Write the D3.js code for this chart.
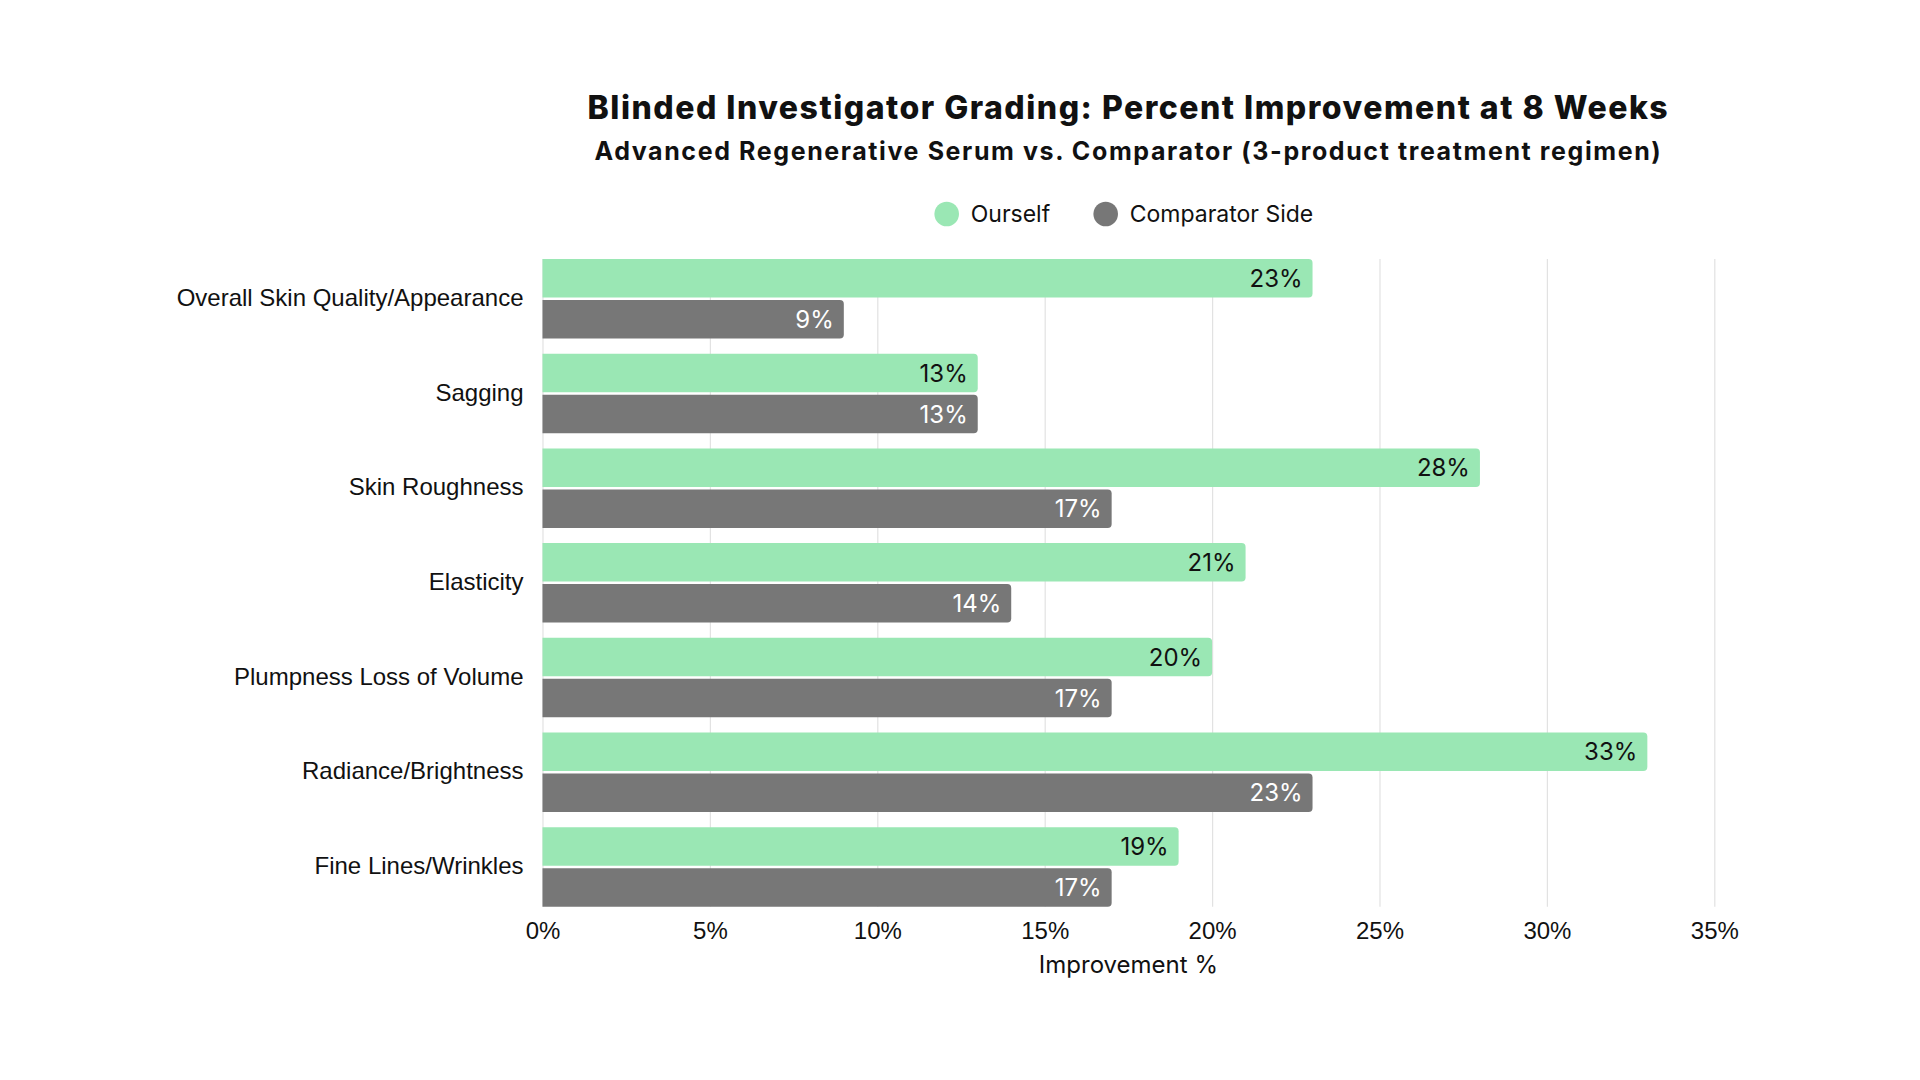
<!DOCTYPE html>
<html>
<head>
<meta charset="utf-8">
<script src="https://cdn.jsdelivr.net/npm/d3@7"></script>
<style>
  html, body { margin: 0; padding: 0; background: #fff; }
  svg { display: block; font-family: Inter, "Noto Sans", sans-serif; }
  .grid line { stroke: #e2e2e2; stroke-width: 1.2; }
  .grid text { font-size: 24px; fill: #111; }
  .cats text { font-size: 24px; fill: #111; }
</style>
</head>
<body>
<svg width="1920" height="1080"></svg>
<script>
// data
var categories = [
  "Overall Skin Quality/Appearance",
  "Sagging",
  "Skin Roughness",
  "Elasticity",
  "Plumpness Loss of Volume",
  "Radiance/Brightness",
  "Fine Lines/Wrinkles"
];
var ourself = [23, 13, 28, 21, 20, 33, 19];
var comparator = [9, 13, 17, 14, 17, 23, 17];
var seriesNames = ["Ourself", "Comparator Side"];
var xTicks = [0, 5, 10, 15, 20, 25, 30, 35];

var colors = { "Ourself": "#9ae7b4", "Comparator Side": "#777777" };
var labelColors = { "Ourself": "#111", "Comparator Side": "#fff" };

var svg = d3.select("svg"),
  margin = {top: 259, left: 542.5},
  width = 1171.8,
  height = 647.7,
  g = svg.append("g").attr("transform", "translate(" + margin.left + "," + margin.top + ")");

var x = d3.scaleLinear().domain([0, 35]).range([0, width]);
var y = d3.scaleBand().domain(categories).range([0, height]).paddingInner(0.16).paddingOuter(0);
var y1 = d3.scaleBand().domain(seriesNames).range([0, y.bandwidth()]).paddingInner(0.06);

// grid + x labels
var gx = g.append("g")
  .attr("class", "grid")
  .attr("transform", "translate(0," + height + ")")
  .call(d3.axisBottom(x).tickValues(xTicks).tickFormat(function(d) { return d + "%"; })
    .tickSize(-height).tickPadding(15));
gx.select(".domain").remove();

// category labels
var gy = g.append("g")
  .attr("class", "cats")
  .call(d3.axisLeft(y).tickSize(0).tickPadding(19));
gy.select(".domain").remove();
gy.selectAll("text").attr("dy", "0.3em");

var rows = categories.map(function(c, i) {
  return { cat: c, values: [
    { key: "Ourself", value: ourself[i] },
    { key: "Comparator Side", value: comparator[i] }
  ]};
});

// bar with rounded right end
function barPath(x0, y0, w, h, r) {
  r = Math.min(r, w);
  return "M" + x0 + "," + y0 +
    "H" + (x0 + w - r) +
    "Q" + (x0 + w) + "," + y0 + " " + (x0 + w) + "," + (y0 + r) +
    "V" + (y0 + h - r) +
    "Q" + (x0 + w) + "," + (y0 + h) + " " + (x0 + w - r) + "," + (y0 + h) +
    "H" + x0 + "Z";
}

var row = g.selectAll("g.row")
  .data(rows)
  .enter().append("g")
  .attr("class", "row")
  .attr("transform", function(d) { return "translate(0," + y(d.cat) + ")"; });

row.selectAll("path")
  .data(function(d) { return d.values; })
  .enter().append("path")
  .attr("d", function(d) { return barPath(x(0), y1(d.key), x(d.value) - x(0), y1.bandwidth(), 4); })
  .attr("fill", function(d) { return colors[d.key]; });

row.selectAll("text")
  .data(function(d) { return d.values; })
  .enter().append("text")
  .attr("x", function(d) { return x(d.value) - 10; })
  .attr("y", function(d) { return y1(d.key) + y1.bandwidth() / 2; })
  .attr("dy", "0.36em")
  .attr("text-anchor", "end")
  .style("font-size", "24px")
  .style("fill", function(d) { return labelColors[d.key]; })
  .text(function(d) { return d.value + "%"; });

// titles
var cx = margin.left + width / 2;
svg.append("text")
  .attr("x", cx).attr("y", 119)
  .attr("text-anchor", "middle")
  .style("font-size", "32px").style("font-weight", 800).style("fill", "#111")
  .style("letter-spacing", "1.5px")
  .text("Blinded Investigator Grading: Percent Improvement at 8 Weeks");
svg.append("text")
  .attr("x", cx).attr("y", 160)
  .attr("text-anchor", "middle")
  .style("font-size", "25px").style("font-weight", 700).style("fill", "#111")
  .style("letter-spacing", "1.6px")
  .text("Advanced Regenerative Serum vs. Comparator (3-product treatment regimen)");

// legend
var legendX = [946.7, 1105.7];
var legend = svg.selectAll("g.legend")
  .data(seriesNames)
  .enter().append("g")
  .attr("class", "legend")
  .attr("transform", function(d, i) { return "translate(" + legendX[i] + ",214)"; });
legend.append("circle").attr("r", 12.3).attr("fill", function(d) { return colors[d]; });
legend.append("text")
  .attr("x", 24).attr("dy", "0.36em")
  .style("font-size", "23px").style("fill", "#111")
  .text(function(d) { return d; });

// x axis title
svg.append("text")
  .attr("x", cx).attr("y", 964).attr("dy", "0.36em")
  .attr("text-anchor", "middle")
  .style("font-size", "24px").style("fill", "#111")
  .text("Improvement %");
</script>
</body>
</html>
